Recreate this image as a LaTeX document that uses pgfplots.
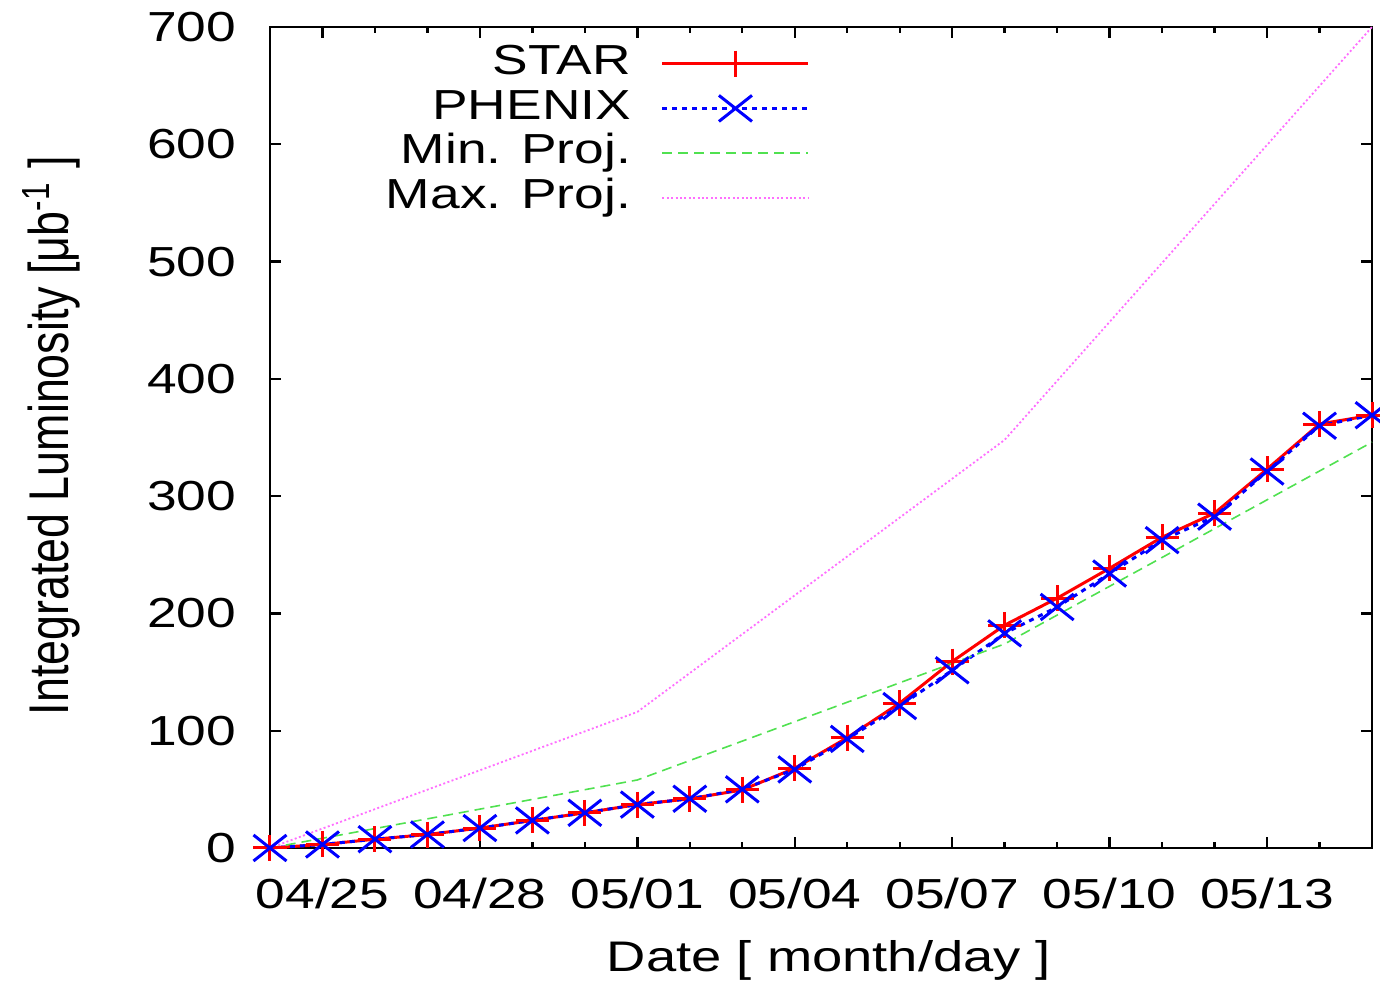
\documentclass[border=0pt]{standalone}
\usepackage{pgfplots}
\pgfplotsset{compat=1.18}
\usepackage{fontspec}
\setmainfont{Liberation Sans}[FakeStretch=1.27]
\newfontfamily\labelfont{Liberation Sans}

\definecolor{starred}{RGB}{255,0,0}
\definecolor{phenixblue}{RGB}{0,0,255}
\definecolor{minproj}{RGB}{80,225,80}
\definecolor{maxproj}{RGB}{255,110,255}

\newcommand{\chartfont}{\fontsize{10.5}{12}\selectfont}

% days counted from 04/24 (x = 0) to 05/15 (x = 21)
\pgfplotstableread{
day star   phenix
0   0      0
1   3      3
2   7.5    7.5
3   11.5   11.5
4   17     17
5   23.5   23.5
6   30     30
7   37     37
8   42     42
9   49.5   50
10  68     67
11  94     93
12  123.5  121
13  159    151.5
14  190    183
15  213    205.5
16  238.5  234
17  265    262.5
18  285.5  282.5
19  323    321
20  361.5  360
21  369    369
}\lumi

\pgfplotstableread{
day minp  maxp
0   0     0
7   58    116
14  174   348
21  346   700
}\proj

\begin{document}
\begin{tikzpicture}
\path[use as bounding box] (-67.5pt,-33.5pt) rectangle (277.5pt,212pt);
\begin{axis}[
  at={(0pt,0pt)}, anchor=south west,
  scale only axis, width=275.5pt, height=205.25pt,
  xmin=0, xmax=21, ymin=0, ymax=700,
  clip=false,
  xtick={1,4,7,10,13,16,19},
  xticklabels={04/25,04/28,05/01,05/04,05/07,05/10,05/13},
  minor xtick={0,...,21},
  ytick={0,100,...,700},
  tick align=inside,
  major tick length=2.8pt, minor tick length=1.4pt,
  every tick/.style={black, line width=0.6pt},
  axis line style={line width=0.6pt},
  tick label style={font=\chartfont},
  /pgf/number format/assume math mode=true,
  yticklabel style={inner sep=0pt, xshift=-8.25pt},
  xticklabel style={inner sep=0pt, yshift=-7.25pt},
  xlabel={Date [ month/day ]},
  xlabel style={at={(axis description cs:0.5073,-0.151)}, anchor=base, inner sep=0pt,
    font=\fontsize{10.7}{12}\selectfont},
  ylabel={\labelfont\fontsize{11.2}{13}\selectfont\scalebox{1}[1.25]{Integrated Luminosity [μb\textsuperscript{-1} ]}},
  ylabel style={at={(axis description cs:-0.1824,0.502)}, anchor=base, rotate=0, inner sep=0pt},
  legend style={draw=none, fill=none, at={(axis description cs:0.4907,0.980)}, anchor=north east,
    font=\chartfont, inner sep=0pt, row sep=1.5pt,
    nodes={inner sep=0pt, text height=7.5pt, text depth=2.2pt}},
  legend cell align=right,
  legend plot pos=right,
  legend image code/.code={
    \path (0pt,0pt);
    \draw[mark repeat=2, mark phase=2, #1] plot coordinates {(7.5pt,0pt) (25.75pt,0pt) (44pt,0pt)};
  },
]
\addplot[starred, line width=0.75pt, mark=+, mark size=3.25pt,
  mark options={solid, xscale=1.27}] table[x=day, y=star] {\lumi};
\addlegendentry{STAR}
\addplot[phenixblue, line width=0.75pt, dash pattern=on 1.25pt off 1.25pt, mark=x, mark size=4.6pt,
  mark options={solid, xscale=1.27}] table[x=day, y=phenix] {\lumi};
\addlegendentry{PHENIX}
\addplot[minproj, line width=0.4pt, dash pattern=on 2.5pt off 1.5pt] table[x=day, y=minp] {\proj};
\addlegendentry{Min. Proj.}
\addplot[maxproj, line width=0.45pt, dash pattern=on 0.5pt off 0.6pt] table[x=day, y=maxp] {\proj};
\addlegendentry{Max. Proj.}
\end{axis}
\end{tikzpicture}
\end{document}
